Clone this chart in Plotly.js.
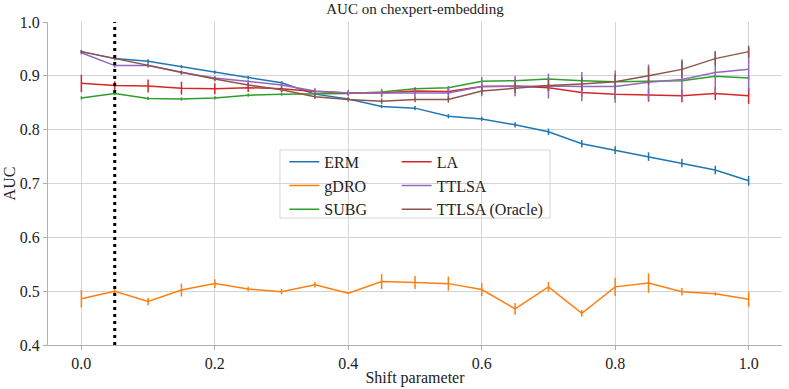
<!DOCTYPE html>
<html>
<head>
<meta charset="utf-8">
<script src="https://cdn.plot.ly/plotly-3.0.1.min.js"></script>
<style>
  html, body { margin: 0; padding: 0; background: #fff; }
  #box { width: 789px; height: 389px; }
</style>
</head>
<body>
<div id="box"></div>
<script>
'use strict'

var shift = [0, 0.05, 0.1, 0.15, 0.2, 0.25, 0.3, 0.35, 0.4, 0.45, 0.5,
             0.55, 0.6, 0.65, 0.7, 0.75, 0.8, 0.85, 0.9, 0.95, 1.0];

var ermAuc = [0.945, 0.932, 0.927, 0.917, 0.907, 0.897, 0.887, 0.866, 0.857, 0.843, 0.840,
              0.825, 0.820, 0.809, 0.796, 0.774, 0.762, 0.750, 0.738, 0.725, 0.705];
var ermErr = [0.003, 0.003, 0.004, 0.003, 0.003, 0.003, 0.003, 0.003, 0.003, 0.003, 0.004,
              0.004, 0.004, 0.005, 0.006, 0.007, 0.007, 0.008, 0.008, 0.008, 0.009];

var gdroAuc = [0.486, 0.500, 0.481, 0.502, 0.514, 0.504, 0.499, 0.512, 0.496, 0.518, 0.516,
               0.514, 0.503, 0.467, 0.508, 0.459, 0.508, 0.515, 0.499, 0.495, 0.485];
var gdroErr = [0.016, 0.004, 0.007, 0.012, 0.008, 0.004, 0.005, 0.005, 0.002, 0.014, 0.012,
               0.013, 0.012, 0.011, 0.009, 0.006, 0.017, 0.018, 0.007, 0.003, 0.014];

var subgAuc = [0.859, 0.867, 0.858, 0.857, 0.859, 0.864, 0.866, 0.866, 0.867, 0.870, 0.876,
               0.878, 0.890, 0.891, 0.894, 0.891, 0.889, 0.890, 0.891, 0.899, 0.896];
var subgErr = [0.003, 0.003, 0.003, 0.003, 0.003, 0.003, 0.003, 0.003, 0.003, 0.003, 0.003,
               0.003, 0.003, 0.004, 0.003, 0.003, 0.003, 0.003, 0.003, 0.003, 0.003];

var laAuc = [0.886, 0.882, 0.881, 0.877, 0.876, 0.878, 0.876, 0.871, 0.868, 0.868, 0.872,
             0.871, 0.880, 0.881, 0.878, 0.869, 0.866, 0.864, 0.863, 0.867, 0.863];
var laErr = [0.016, 0.008, 0.012, 0.012, 0.010, 0.008, 0.006, 0.005, 0.004, 0.005, 0.006,
             0.006, 0.007, 0.007, 0.007, 0.008, 0.009, 0.012, 0.012, 0.012, 0.015];

var ttlsaAuc = [0.943, 0.919, 0.919, 0.906, 0.896, 0.889, 0.883, 0.872, 0.868, 0.868, 0.868,
                0.868, 0.880, 0.881, 0.881, 0.880, 0.880, 0.888, 0.893, 0.906, 0.912];
var ttlsaErr = [0.003, 0.004, 0.004, 0.004, 0.004, 0.004, 0.004, 0.005, 0.006, 0.008, 0.008,
                0.012, 0.018, 0.019, 0.023, 0.027, 0.030, 0.033, 0.038, 0.040, 0.040];

var oracleAuc = [0.945, 0.932, 0.920, 0.906, 0.894, 0.883, 0.874, 0.861, 0.856, 0.853, 0.856,
                 0.856, 0.872, 0.877, 0.882, 0.885, 0.889, 0.900, 0.912, 0.932, 0.945];
var oracleErr = [0.003, 0.003, 0.003, 0.003, 0.004, 0.004, 0.004, 0.004, 0.004, 0.005, 0.005,
                 0.006, 0.007, 0.009, 0.010, 0.012, 0.014, 0.017, 0.016, 0.013, 0.011];

var trueShift = 0.05;

var font = '"Liberation Serif", "DejaVu Serif", serif';

function makeTrace(name, y, err, color, legend){
    return {
        type: 'scatter',
        mode: 'lines',
        name: name,
        x: shift,
        y: y,
        legend: legend,
        line: {color: color, width: 1.5},
        error_y: {type: 'data', array: err, visible: true, color: color, thickness: 1.5, width: 0}
    };
}

var graphData = [
    makeTrace('ERM', ermAuc, ermErr, '#1f77b4', 'legend'),
    makeTrace('gDRO', gdroAuc, gdroErr, '#ff7f0e', 'legend'),
    makeTrace('SUBG', subgAuc, subgErr, '#2ca02c', 'legend'),
    makeTrace('LA', laAuc, laErr, '#d62728', 'legend2'),
    makeTrace('TTLSA', ttlsaAuc, ttlsaErr, '#9467bd', 'legend2'),
    makeTrace('TTLSA (Oracle)', oracleAuc, oracleErr, '#8c564b', 'legend2')
];

var legendStyle = {
    bgcolor: 'rgba(0,0,0,0)',
    borderwidth: 0,
    font: {family: font, size: 16, color: '#222'},
    xanchor: 'left',
    yanchor: 'top',
    y: 0.62,
    tracegroupgap: 0,
    itemwidth: 30
};

var layout = {
    width: 789,
    height: 389,
    margin: {l: 48, r: 7, t: 22, b: 44},
    paper_bgcolor: 'white',
    plot_bgcolor: 'white',
    font: {family: font, size: 16, color: '#222'},
    title: {
        text: 'AUC on chexpert-embedding',
        font: {family: font, size: 15, color: '#222'},
        x: 0.5,
        xref: 'paper',
        y: 0.99,
        yanchor: 'top'
    },
    showlegend: true,
    legend: Object.assign({}, legendStyle, {x: 0.322}),
    legend2: Object.assign({}, legendStyle, {x: 0.475}),
    xaxis: {
        range: [-0.05, 1.05],
        tickvals: [0, 0.2, 0.4, 0.6, 0.8, 1.0],
        ticktext: ['0.0', '0.2', '0.4', '0.6', '0.8', '1.0'],
        showgrid: true,
        gridcolor: '#d4d4d4',
        gridwidth: 1,
        zeroline: false,
        showline: true,
        linecolor: '#b0b0b0',
        ticks: 'outside',
        ticklen: 4,
        tickcolor: '#b0b0b0',
        tickfont: {family: font, size: 16, color: '#222'},
        title: {text: 'Shift parameter', font: {family: font, size: 16, color: '#222'}, standoff: 0}
    },
    yaxis: {
        range: [0.4, 1.0],
        tickvals: [0.4, 0.5, 0.6, 0.7, 0.8, 0.9, 1.0],
        ticktext: ['0.4', '0.5', '0.6', '0.7', '0.8', '0.9', '1.0'],
        showgrid: true,
        gridcolor: '#d4d4d4',
        gridwidth: 1,
        zeroline: false,
        showline: true,
        linecolor: '#b0b0b0',
        ticks: 'outside',
        ticklen: 4,
        tickcolor: '#b0b0b0',
        tickfont: {family: font, size: 16, color: '#222'},
        title: {text: 'AUC', font: {family: font, size: 16, color: '#222'}, standoff: 0}
    },
    shapes: [
        {
            type: 'rect', xref: 'paper', yref: 'paper',
            x0: 0.316, x1: 0.684, y0: 0.393, y1: 0.604,
            line: {color: '#d6d6d6', width: 1},
            fillcolor: 'rgba(255,255,255,0.8)',
            layer: 'below'
        },
        {
            type: 'line', xref: 'x', yref: 'y',
            x0: trueShift, x1: trueShift, y0: 0.4, y1: 1.0,
            line: {color: 'black', width: 3, dash: '3px,4px'},
            layer: 'above'
        }
    ]
};

Plotly.newPlot('box', graphData, layout, {displayModeBar: false, staticPlot: true});
</script>
</body>
</html>
